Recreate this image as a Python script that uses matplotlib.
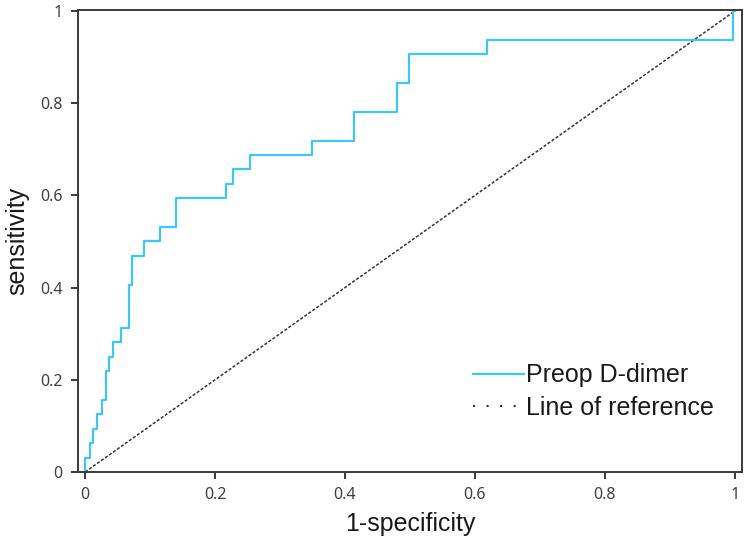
import numpy as np
import matplotlib
matplotlib.use("Agg")
import matplotlib.pyplot as plt
from matplotlib.lines import Line2D

# ROC points (1-specificity, sensitivity in 32nds)
fpr = [0, 0, 0.0077, 0.0128, 0.018, 0.0256, 0.0317, 0.037, 0.0436, 0.055,
       0.0677, 0.0728, 0.0908, 0.115, 0.14, 0.217, 0.228, 0.253, 0.349,
       0.414, 0.4805, 0.499, 0.618, 0.997, 1.0]
tpr_count = [0, 1, 2, 3, 4, 5, 7, 8, 9, 10, 13, 15, 16, 17, 19, 20, 21, 22,
             23, 25, 27, 29, 30, 32, 32]
n_pos = 32
tpr = np.array(tpr_count) / n_pos

ref_x = [0, 1]
ref_y = [0, 1]

xticks = [0, 0.2, 0.4, 0.6, 0.8, 1]
tick_labels = ["0", "0.2", "0.4", "0.6", "0.8", "1"]

roc_color = "#3fc6f6"
spine_color = "#3a3a3a"

fig = plt.figure(figsize=(7.49, 5.45), dpi=100)
ax = fig.add_axes([78 / 749, 73 / 545, 664 / 749, 462 / 545])

ax.plot(ref_x, ref_y, color="#333333", lw=1.1, linestyle=(0, (2, 1.2)))
ax.step(fpr, tpr, where="post", color=roc_color, lw=1.6)

ax.set_xlim(-0.011, 1.011)
ax.set_ylim(0, 1.002)
ax.set_xticks(xticks)
ax.set_xticklabels(tick_labels)
ax.set_yticks(xticks)
ax.set_yticklabels(tick_labels)

for s in ax.spines.values():
    s.set_color(spine_color)
    s.set_linewidth(1.4)

ax.tick_params(direction="out", length=5, width=1.4, color=spine_color,
               labelcolor="#404040", labelsize=11.5, pad=6)
for lab in ax.get_xticklabels() + ax.get_yticklabels():
    lab.set_fontfamily("Noto Sans")

lab_font = dict(family="Liberation Sans", size=18, color="#1a1a1a")
ax.set_xlabel("1-specificity", labelpad=6, **lab_font)
ax.set_ylabel("sensitivity", labelpad=8, **lab_font)

handles = [Line2D([], [], color=roc_color, lw=1.6),
           Line2D([], [], color="#333333", lw=1.5, linestyle=(0, (1, 5.5)))]
leg = ax.legend(handles, ["Preop D-dimer", "Line of reference"],
                loc="upper left", bbox_to_anchor=(0.595, 0.235),
                frameon=False, borderpad=0, borderaxespad=0,
                handlelength=2.05, handletextpad=0.05, labelspacing=0.34,
                prop=dict(family="Liberation Sans", size=18))
for t in leg.get_texts():
    t.set_color("#1a1a1a")

fig.savefig("out.png", dpi=100)
